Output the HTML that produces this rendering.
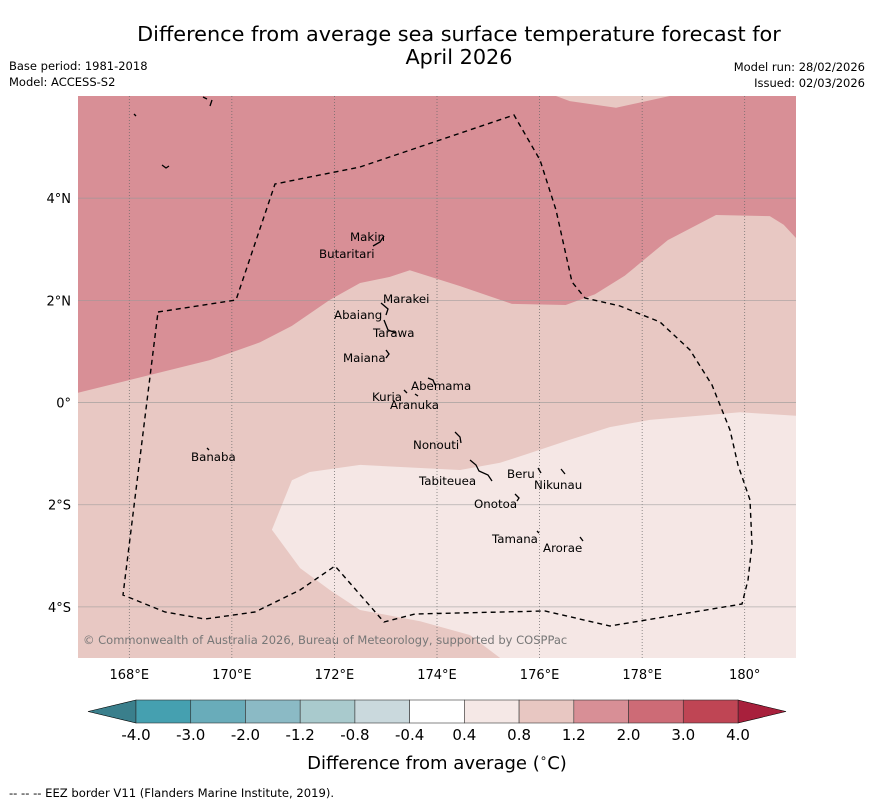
<!DOCTYPE html>
<html><head><meta charset="utf-8"><style>
body{margin:0;background:#fff;font-family:"Liberation Sans","DejaVu Sans",sans-serif;}
svg{display:block}
</style></head><body>
<svg width="873" height="804" viewBox="0 0 873 804" font-family="DejaVu Sans, Liberation Sans, sans-serif">
<text x="459" y="41" font-size="20.8" text-anchor="middle">Difference from average sea surface temperature forecast for</text>
<text x="459" y="64" font-size="20.8" text-anchor="middle">April 2026</text>
<text x="9" y="70" font-size="11.5">Base period: 1981-2018</text>
<text x="9" y="86" font-size="11.5">Model: ACCESS-S2</text>
<text x="865" y="71" font-size="11.5" text-anchor="end">Model run: 28/02/2026</text>
<text x="865" y="87" font-size="11.5" text-anchor="end">Issued: 02/03/2026</text>
<g id="map"></g>
<g id="cbar"></g>
<text x="437" y="769" font-size="18" text-anchor="middle">Difference from average (<tspan font-size="12" dy="-7">∘</tspan><tspan dy="7">C)</tspan></text>
<text x="9" y="797" font-size="11.6">--  --  -- EEZ border V11 (Flanders Marine Institute, 2019).</text>
</svg>
<script>
const lonTicks=[168,170,172,174,176,178,180];
const latTicks=[4,2,0,-2,-4];
const latLabels=["4°N","2°N","0°","2°S","4°S"];
const lonLabels=["168°E","170°E","172°E","174°E","176°E","178°E","180°"];
const darkLon=[167,168.4,169.57,170.55,171.17,171.91,172.5,173.08,173.47,174.45,175.46,176.51,177.08,177.66,178.5,179.44,180.49,180.76,181];
const darkLat=[0.19,0.54,0.83,1.18,1.5,2.01,2.34,2.46,2.59,2.28,1.93,1.91,2.12,2.48,3.18,3.67,3.65,3.48,3.22];
const topLon=[176.32,176.59,177.49,178.54];
const topLat=[6,5.9,5.77,6];
const paleLon=[170.78,171.17,171.52,172.5,174.45,175.23,175.81,176.59,177.37,178.15,179.91,181,181,175.23,174.64,173.67,172.5,171.91,171.33];
const paleLat=[-2.49,-1.52,-1.36,-1.22,-1.32,-1.18,-0.99,-0.73,-0.48,-0.34,-0.19,-0.26,-5,-5,-4.55,-4.28,-4.06,-3.67,-3.24];
const islands=[["Makin",350,236],["Butaritari",319,253],["Marakei",383,298],["Abaiang",334,314],["Tarawa",373,332],["Maiana",343,357],["Abemama",411,385],["Kuria",372,396],["Aranuka",390,404],["Nonouti",413,444],["Tabiteuea",419,480],["Beru",507,473],["Nikunau",534,484],["Onotoa",474,503],["Tamana",492,538],["Arorae",543,547],["Banaba",191,456]];
const coasts=["M373,246 L380,242 L384,236","M381,303 L388,309 L386,315","M384,320 L388,330 L396,333","M386,350 L389,354 L386,358","M428,378 L433,380 L435,385","M404,390 L407,393","M415,394 L418,396","M455,432 L460,437 L461,443","M470,460 L476,465 L479,471 L488,475 L492,481","M538,468 L541,473","M561,469 L565,474","M515,494 L519,498 L517,501","M537,531 L539,533","M580,537 L583,541","M207,448 L209,450","M134,114 L136,116","M162,165 L166,168 L169,166","M203,97 L207,99","M212,100 L210,106"];
const cbLabels=["-4.0","-3.0","-2.0","-1.2","-0.8","-0.4","0.4","0.8","1.2","2.0","3.0","4.0"];
const cbColors=["#45a0b0","#69acba","#8bbac5","#a9cacd","#cad9dd","#ffffff","#f5e8e6","#e8c7c2","#d88f96","#cd6b76","#bf4554"];
const NS="http://www.w3.org/2000/svg";
const X0=78,X1=796,Y0=96,Y1=658,LON0=167,LON1=181,LAT0=6,LAT1=-5;
const xs=l=>X0+(l-LON0)*(X1-X0)/(LON1-LON0);
const ys=l=>Y0+(LAT0-l)*(Y1-Y0)/(LAT0-LAT1);
const map=document.getElementById('map');
function mk(tag,at,parent){const e=document.createElementNS(NS,tag);for(const k in at)e.setAttribute(k,at[k]);(parent||map).appendChild(e);return e;}
let e;
e=mk('rect',{x:X0,y:Y0,width:X1-X0,height:Y1-Y0,fill:'#e8c8c3'});


function poly(lo,la){return lo.map((v,i)=>xs(v).toFixed(1)+','+ys(la[i]).toFixed(1)).join(' ');}
e=mk('polygon',{points:poly(darkLon,darkLat)+` ${X1},${Y0} ${X0},${Y0}`,fill:'#d88f96'});


e=mk('polygon',{points:poly(topLon,topLat),fill:'#e8c8c3'});


e=mk('polygon',{points:poly(paleLon,paleLat),fill:'#f5e7e5'});


lonTicks.forEach((l,i)=>{
 e=mk('line',{x1:xs(l),x2:xs(l),y1:Y0,y2:Y1,stroke:'#666','stroke-width':0.7,'stroke-dasharray':'1,2'});
 
 
 e=mk('text',{x:xs(l),y:679,'font-size':13,'text-anchor':'middle'});e.textContent=lonLabels[i];
 
 
});
latTicks.forEach((l,i)=>{
 e=mk('line',{x1:X0,x2:X1,y1:ys(l),y2:ys(l),stroke:'#999','stroke-width':0.8,'stroke-opacity':0.7});
 
 
 e=mk('text',{x:71,y:ys(l)+5,'font-size':13,'text-anchor':'end'});e.textContent=latLabels[i];
 
 
});
e=mk('path',{d:'M158,312 L236,300 L275,184 L360,167 L440,140 L514,115 L540,160 L556,210 L572,282 L585,298 L620,306 L660,322 L690,350 L712,385 L730,430 L738,465 L750,500 L752,545 L748,580 L742,604 L610,626 L545,611 L415,614 L384,622 L335,566 L300,590 L255,612 L205,619 L165,612 L123,595 Z',fill:'none',stroke:'#000','stroke-width':1.4,'stroke-dasharray':'5,4'});


coasts.forEach(d=>{
 e=mk('path',{d:d,fill:'none',stroke:'#000','stroke-width':1.3});
 
 
});
islands.forEach(d=>{
 e=mk('text',{x:d[1],y:d[2]+5,'font-size':11.8});e.textContent=d[0];
 
 
});
e=mk('text',{x:83,y:644,'font-size':11.5,fill:'#777'});e.textContent='© Commonwealth of Australia 2026, Bureau of Meteorology, supported by COSPPac';


const cb=document.getElementById('cbar');
const CX0=136,CX1=738,CY=700,CH=23,w=(CX1-CX0)/cbColors.length;
e=mk('polygon',{points:`${CX0},${CY} 88,${CY+CH/2} ${CX0},${CY+CH}`,fill:'#3a7f8c',stroke:'#000','stroke-width':0.6},cb);


e=mk('polygon',{points:`${CX1},${CY} 786,${CY+CH/2} ${CX1},${CY+CH}`,fill:'#a8203c',stroke:'#000','stroke-width':0.6},cb);


cbColors.forEach((c,i)=>{
 e=mk('rect',{x:CX0+i*w,y:CY,width:w,height:CH,fill:c,stroke:'#333','stroke-width':0.6},cb);
 
 
});
cbLabels.forEach((t,i)=>{
 e=mk('text',{x:CX0+i*w,y:740,'font-size':15,'text-anchor':'middle'},cb);e.textContent=t;
 
 
});
</script>
</body></html>
